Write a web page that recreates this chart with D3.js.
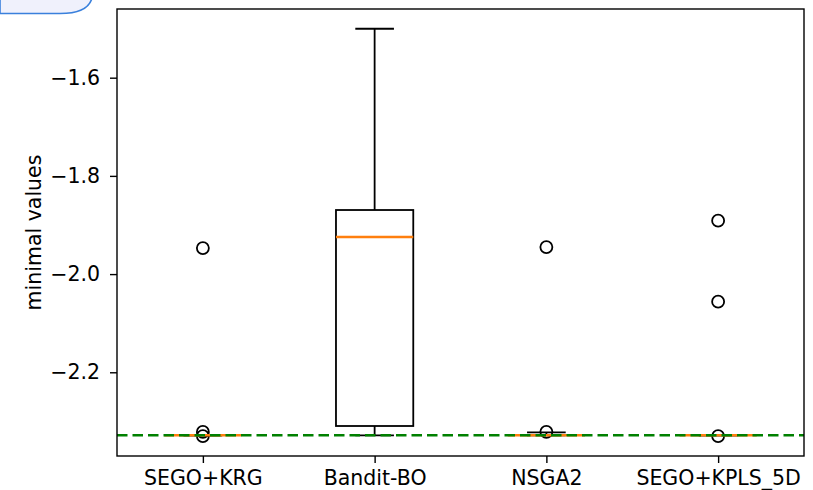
<!DOCTYPE html>
<html>
<head>
<meta charset="utf-8">
<script src="https://cdn.jsdelivr.net/npm/d3@7"></script>
<style>
  html, body { margin: 0; padding: 0; background: #ffffff; }
  svg { display: block; }
  text { font-family: "DejaVu Sans", sans-serif; fill: #000; }
</style>
</head>
<body>
<svg id="chart" width="813" height="490"></svg>
<script>
// ---- data ----
const categories = ["SEGO+KRG", "Bandit-BO", "NSGA2", "SEGO+KPLS_5D"];
const q1Values = [-2.3283, -2.3094, -2.3283, -2.3283];
const medianValues = [-2.3283, -1.9244, -2.3283, -2.3283];
const q3Values = [-2.3283, -1.8695, -2.3283, -2.3283];
const whiskerLowValues = [-2.3283, -2.3283, -2.3283, -2.3283];
const whiskerHighValues = [-2.3283, -1.5003, -2.3222, -2.3283];
const outlierValues = [
  [-1.947, -2.3215, -2.3300],
  [],
  [-1.945, -2.3212],
  [-1.8912, -2.0562, -2.3300]
];
const optimumValue = -2.3283;
const yTickValues = [-2.2, -2.0, -1.8, -1.6];
const yLabel = "minimal values";

// ---- layout ----
const svg = d3.select("#chart");
const plot = { left: 117, right: 804, top: 9, bottom: 456 };
const fontSize = 20.5;

const x = d3.scaleLinear().domain([0.5, categories.length + 0.5]).range([plot.left, plot.right]);
const y = d3.scaleLinear().domain([-2.3705, -1.4601]).range([plot.bottom, plot.top]);
const boxW = 0.45;

// decorative top-left UI artifact
svg.append("path")
  .attr("d", "M0,-2 L0,13.5 L60,13.5 Q88,13.5 92,-2 Z")
  .attr("fill", "#f0f1fc")
  .attr("stroke", "#3a80dc")
  .attr("stroke-width", 1.6);

const g = svg.append("g");

const data = categories.map((c, i) => ({
  cat: c, pos: i + 1,
  q1: q1Values[i], med: medianValues[i], q3: q3Values[i],
  lo: whiskerLowValues[i], hi: whiskerHighValues[i], out: outlierValues[i]
}));

const boxes = g.selectAll("g.box").data(data).join("g").attr("class", "box");
const lw = 1.8;

// whiskers
boxes.append("line")
  .attr("x1", d => x(d.pos)).attr("x2", d => x(d.pos))
  .attr("y1", d => y(d.q3)).attr("y2", d => y(d.hi))
  .attr("stroke", "#000").attr("stroke-width", lw);
boxes.append("line")
  .attr("x1", d => x(d.pos)).attr("x2", d => x(d.pos))
  .attr("y1", d => y(d.q1)).attr("y2", d => y(d.lo))
  .attr("stroke", "#000").attr("stroke-width", lw);
// caps
["hi", "lo"].forEach(k => {
  boxes.append("line")
    .attr("x1", d => x(d.pos - boxW / 4)).attr("x2", d => x(d.pos + boxW / 4))
    .attr("y1", d => y(d[k])).attr("y2", d => y(d[k]))
    .attr("stroke", "#000").attr("stroke-width", lw);
});
// box
boxes.append("rect")
  .attr("x", d => x(d.pos - boxW / 2))
  .attr("width", d => x(d.pos + boxW / 2) - x(d.pos - boxW / 2))
  .attr("y", d => y(d.q3))
  .attr("height", d => Math.max(0, y(d.q1) - y(d.q3)))
  .attr("fill", "none").attr("stroke", "#000").attr("stroke-width", lw);

// optimum reference line
g.append("line")
  .attr("x1", plot.left).attr("x2", plot.right)
  .attr("y1", y(optimumValue)).attr("y2", y(optimumValue))
  .attr("stroke", "#008000").attr("stroke-width", 2.6)
  .attr("stroke-dasharray", "10.5,5");

// fliers
boxes.selectAll("circle").data(d => d.out.map(v => ({ pos: d.pos, v })))
  .join("circle")
  .attr("cx", d => x(d.pos)).attr("cy", d => y(d.v)).attr("r", 6)
  .attr("fill", "none").attr("stroke", "#000").attr("stroke-width", 1.8);

// medians
boxes.append("line")
  .attr("x1", d => x(d.pos - boxW / 2)).attr("x2", d => x(d.pos + boxW / 2))
  .attr("y1", d => y(d.med)).attr("y2", d => y(d.med))
  .attr("stroke", "#ff7f0e").attr("stroke-width", 2.4);

// frame
svg.append("rect")
  .attr("x", plot.left).attr("y", plot.top)
  .attr("width", plot.right - plot.left).attr("height", plot.bottom - plot.top)
  .attr("fill", "none").attr("stroke", "#000").attr("stroke-width", 1.4);

// y axis
const yAxis = d3.axisLeft(y).tickValues(yTickValues).tickFormat(d3.format(".1f"))
  .tickSize(7).tickPadding(10);
const ya = svg.append("g").attr("transform", `translate(${plot.left},0)`).call(yAxis);
ya.select(".domain").remove();
ya.selectAll("line").attr("stroke", "#000").attr("stroke-width", 1.4);
ya.selectAll("text").attr("font-family", "DejaVu Sans").attr("font-size", fontSize).attr("fill", "#000");

// x axis
const xAxis = d3.axisBottom(x).tickValues(data.map(d => d.pos))
  .tickFormat((d, i) => categories[i]).tickSize(7).tickPadding(7);
const xa = svg.append("g").attr("transform", `translate(0,${plot.bottom})`).call(xAxis);
xa.select(".domain").remove();
xa.selectAll("line").attr("stroke", "#000").attr("stroke-width", 1.4);
xa.selectAll("text").attr("font-family", "DejaVu Sans").attr("font-size", fontSize).attr("fill", "#000");

// y label
svg.append("text")
  .attr("transform", `translate(41,${(plot.top + plot.bottom) / 2}) rotate(-90)`)
  .attr("text-anchor", "middle")
  .attr("font-size", fontSize)
  .text(yLabel);
</script>
</body>
</html>
